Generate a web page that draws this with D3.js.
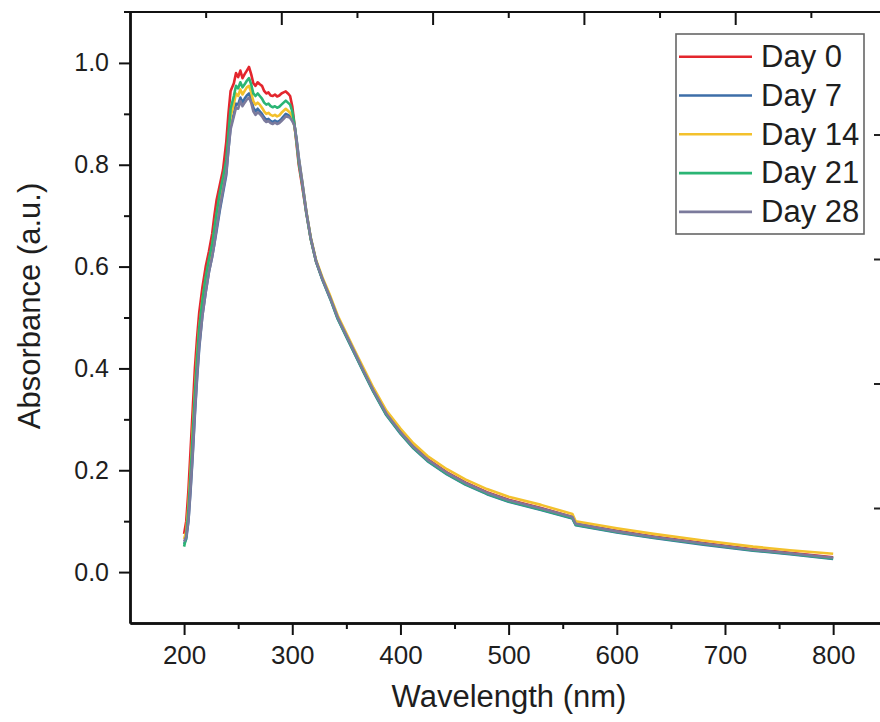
<!DOCTYPE html>
<html lang="en">
<head>
<meta charset="utf-8"/>
<title>Absorbance spectra</title>
<script src="https://cdnjs.cloudflare.com/ajax/libs/d3/7.8.5/d3.min.js"></script>
<style>
  body { margin: 0; background: #fff; }
  svg { display: block; }
  text { font-family: "Liberation Sans", Arial, sans-serif; fill: #1e1e1e; }
  .axis path, .axis line { stroke: #111; }
</style>
</head>
<body>
<div id="chart"></div>
<script>
// wavelength grid (nm)
var wavelength = [200,202,204,206,208,210,212,214,217,220,223,226,228,230,233,236,239,241,243,
  246,248,250,252,254,256,258,260,262,264,266,268,270,272,274,276,278,280,282,284,286,288,290,292,294,296,298,300,
  302,304,306,309,313,317,322,328,335,342,350,358,366,375,387,400,412,425,443,460,480,500,530,559,562,600,634,680,726,760,800];

var day0 = [0.075,0.10,0.16,0.24,0.32,0.40,0.46,0.51,0.56,0.60,0.63,0.665,0.70,0.73,0.76,0.79,0.845,0.90,0.945,
  0.96,0.98,0.972,0.985,0.97,0.978,0.985,0.992,0.978,0.96,0.955,0.962,0.958,0.955,0.945,0.94,0.942,0.936,0.935,0.938,0.934,0.936,0.94,0.942,0.944,0.94,0.935,0.915,
  0.88,0.84,0.80,0.76,0.705,0.655,0.61,0.575,0.54,0.50,0.465,0.43,0.395,0.357,0.312,0.276,0.247,0.222,0.196,0.176,0.157,0.142,0.126,0.108,0.095,0.081,0.07,0.057,0.045,0.038,0.029];

var day7 = [0.055,0.065,0.10,0.16,0.23,0.31,0.38,0.44,0.505,0.55,0.59,0.62,0.645,0.67,0.71,0.745,0.78,0.83,0.875,
  0.9,0.92,0.918,0.932,0.922,0.93,0.936,0.94,0.93,0.912,0.905,0.91,0.905,0.9,0.893,0.888,0.89,0.886,0.884,0.887,0.884,0.886,0.89,0.895,0.9,0.898,0.895,0.888,
  0.878,0.85,0.815,0.77,0.708,0.656,0.61,0.573,0.537,0.497,0.462,0.427,0.392,0.354,0.308,0.272,0.243,0.218,0.192,0.172,0.153,0.138,0.122,0.105,0.092,0.078,0.067,0.054,0.042,0.035,0.026];

var day14 = [0.065,0.08,0.13,0.20,0.28,0.355,0.425,0.48,0.535,0.575,0.61,0.64,0.67,0.70,0.735,0.77,0.80,0.85,0.895,
  0.92,0.94,0.935,0.948,0.938,0.945,0.952,0.955,0.942,0.925,0.918,0.922,0.918,0.912,0.905,0.9,0.902,0.898,0.896,0.898,0.895,0.897,0.902,0.906,0.91,0.906,0.902,0.895,
  0.875,0.845,0.81,0.768,0.708,0.658,0.613,0.578,0.543,0.504,0.469,0.434,0.4,0.362,0.317,0.282,0.253,0.228,0.202,0.182,0.163,0.148,0.132,0.114,0.1,0.086,0.075,0.062,0.05,0.043,0.036];

var day21 = [0.05,0.07,0.12,0.19,0.27,0.35,0.42,0.48,0.535,0.58,0.615,0.645,0.675,0.705,0.745,0.775,0.81,0.86,0.91,
  0.935,0.955,0.95,0.962,0.952,0.958,0.965,0.97,0.958,0.94,0.935,0.94,0.935,0.93,0.922,0.918,0.92,0.915,0.913,0.915,0.912,0.914,0.918,0.922,0.926,0.922,0.918,0.905,
  0.88,0.845,0.805,0.765,0.705,0.655,0.61,0.574,0.538,0.498,0.463,0.428,0.393,0.355,0.309,0.273,0.244,0.219,0.193,0.173,0.154,0.139,0.123,0.106,0.093,0.079,0.068,0.055,0.043,0.036,0.027];

var day28 = [0.06,0.07,0.10,0.165,0.235,0.315,0.385,0.445,0.505,0.55,0.59,0.62,0.645,0.675,0.715,0.75,0.785,0.83,0.87,
  0.895,0.912,0.91,0.925,0.915,0.922,0.928,0.932,0.922,0.905,0.898,0.903,0.9,0.895,0.888,0.884,0.886,0.882,0.88,0.883,0.88,0.882,0.886,0.89,0.895,0.894,0.892,0.886,
  0.877,0.848,0.812,0.768,0.707,0.657,0.611,0.575,0.539,0.5,0.465,0.43,0.395,0.357,0.311,0.275,0.246,0.221,0.195,0.175,0.156,0.141,0.125,0.108,0.095,0.08,0.069,0.056,0.044,0.037,0.028];

var seriesNames = ["Day 0", "Day 7", "Day 14", "Day 21", "Day 28"];
var seriesValues = [day0, day7, day14, day21, day28];
var seriesColors = ["#e3262d", "#3d6ea8", "#f3c12c", "#2bb574", "#7b7a9c"];

var xMajor = [200, 300, 400, 500, 600, 700, 800];
var xMinor = [250, 350, 450, 550, 650, 750];
var yMajor = [0.0, 0.2, 0.4, 0.6, 0.8, 1.0];
var yMinor = [0.1, 0.3, 0.5, 0.7, 0.9];

var W = 880, H = 722;
var svg = d3.select("#chart").append("svg").attr("width", W).attr("height", H);

var x = d3.scaleLinear().domain([150, 843.3]).range([130, 880]);
var y = d3.scaleLinear().domain([-0.1, 1.1]).range([623, 12]);

// bits of the neighbouring panels that show at the edges of the crop
var topAxis = d3.scaleLinear().domain([0, 5]).range([130.5, 887]);
var topLine = svg.append("g").attr("class", "axis").attr("transform", "translate(0,12)");
topLine.append("line").attr("x1", 124).attr("x2", W).attr("stroke-width", 2);
topLine.selectAll(".tmaj").data([1, 2, 3, 4]).enter().append("line")
  .attr("x1", d => topAxis(d)).attr("x2", d => topAxis(d)).attr("y1", 0).attr("y2", 13).attr("stroke-width", 2);
topLine.selectAll(".tmin").data([0.5, 1.5, 2.5, 3.5, 4.5]).enter().append("line")
  .attr("x1", d => topAxis(d)).attr("x2", d => topAxis(d)).attr("y1", 0).attr("y2", 6).attr("stroke-width", 2);

var sideAxis = d3.scaleLinear().domain([0, 3]).range([135, 508.5]);
svg.selectAll(".side").data([0, 1, 2, 3]).enter().append("line")
  .attr("x1", 874).attr("x2", W).attr("y1", d => sideAxis(d)).attr("y2", d => sideAxis(d))
  .attr("stroke", "#222").attr("stroke-width", 2);

// curves
var line = d3.line()
  .x((d, i) => x(wavelength[i]))
  .y(d => y(d));

svg.append("g").selectAll("path").data(seriesValues).enter().append("path")
  .attr("d", line)
  .attr("fill", "none")
  .attr("stroke", (d, i) => seriesColors[i])
  .attr("stroke-width", 2.6)
  .attr("stroke-linejoin", "round");

// axes
var xAxis = svg.append("g").attr("class", "axis").attr("transform", "translate(0,623)")
  .call(d3.axisBottom(x).tickValues(xMajor).tickSize(12).tickSizeOuter(0).tickPadding(11).tickFormat(d3.format("d")));
svg.append("g").attr("class", "axis").attr("transform", "translate(0,623)")
  .call(d3.axisBottom(x).tickValues(xMinor).tickSize(6).tickSizeOuter(0).tickFormat(""));

var yAxis = svg.append("g").attr("class", "axis").attr("transform", "translate(130,0)")
  .call(d3.axisLeft(y).tickValues(yMajor).tickSize(11).tickSizeOuter(0).tickPadding(10).tickFormat(d3.format(".1f")));
svg.append("g").attr("class", "axis").attr("transform", "translate(130,0)")
  .call(d3.axisLeft(y).tickValues(yMinor).tickSize(6).tickSizeOuter(0).tickFormat(""));

svg.selectAll(".axis path").attr("stroke-width", 2.4);
svg.selectAll(".axis line").attr("stroke-width", 2);
xAxis.selectAll("text").style("font-size", "26px").style("font-family", "'Liberation Sans', Arial, sans-serif").attr("fill", "#1e1e1e");
yAxis.selectAll("text").style("font-size", "25px").style("font-family", "'Liberation Sans', Arial, sans-serif").attr("fill", "#1e1e1e");

svg.append("text").attr("x", 509).attr("y", 707).attr("text-anchor", "middle")
  .style("font-size", "31px").text("Wavelength (nm)");
svg.append("text").attr("transform", "translate(40,306) rotate(-90)").attr("text-anchor", "middle")
  .style("font-size", "31px").text("Absorbance (a.u.)");

// legend
var legend = svg.append("g").attr("transform", "translate(676,34)");
legend.append("rect").attr("width", 188).attr("height", 200)
  .attr("fill", "#fff").attr("stroke", "#666").attr("stroke-width", 1.6);
var item = legend.selectAll(".item").data(seriesNames).enter().append("g")
  .attr("transform", (d, i) => "translate(0," + (22.7 + i * 38.8) + ")");
item.append("line").attr("x1", 3).attr("x2", 76)
  .attr("stroke", (d, i) => seriesColors[i]).attr("stroke-width", 2.6);
item.append("text").attr("x", 85).attr("dy", "0.33em")
  .style("font-size", "31px").text(d => d);
</script>
</body>
</html>
